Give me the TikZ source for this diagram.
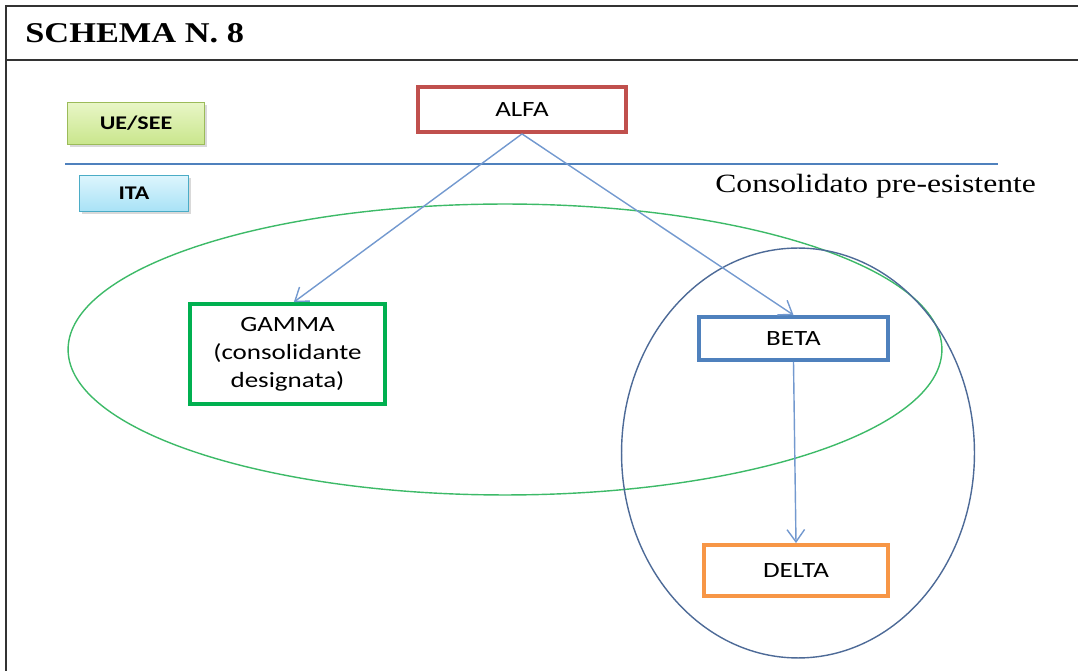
\documentclass[tikz,border=0pt]{standalone}
\usepackage{fontspec}
\setmainfont[FakeStretch=1.2]{Liberation Serif}
\newfontfamily\boxfont[FakeStretch=1.24]{Carlito}
\usetikzlibrary{arrows.meta}
\usetikzlibrary{positioning}
\usetikzlibrary{shadows}

\definecolor{alfared}{HTML}{C0504D}
\definecolor{gammagreen}{HTML}{00B050}
\definecolor{betablue}{HTML}{4F81BD}
\definecolor{deltaorange}{HTML}{F79646}
\definecolor{linkblue}{HTML}{7399CF}
\definecolor{ovalgreen}{HTML}{3DBA68}
\definecolor{ovalblue}{HTML}{4D6A97}
\definecolor{uetop}{HTML}{E8F6C6}
\definecolor{uebottom}{HTML}{C9E68C}
\definecolor{ueline}{HTML}{9BBB59}
\definecolor{itatop}{HTML}{DDF5FD}
\definecolor{itabottom}{HTML}{A8E2F6}
\definecolor{italine}{HTML}{4BACC6}

\begin{document}
\begin{tikzpicture}[
  x = 0.02cm, y = -0.02cm,
  > = {Straight Barb[length=7pt,width=10pt]},
  firm/.style = {draw=#1,line width=2.2pt,fill=white,align=center,
                 font=\boxfont\fontsize{12.4}{16}\selectfont,inner sep=0pt},
  tag/.style = {draw=#1,line width=0.8pt,font=\boxfont\bfseries\fontsize{11}{13}\selectfont,
                inner sep=0pt,drop shadow={shadow xshift=1.2pt,shadow yshift=-1.2pt,opacity=.3}},
  link/.style = {->,draw=linkblue,line width=0.8pt}
  ]
  \useasboundingbox (0,0) rectangle (1078,671);

  % frame and title
  \draw[line width=1.2pt,black!80] (6,680) -- (6,6) -- (1090,6);
  \draw[line width=1.2pt,black!80] (6,60) -- (1090,60);
  \node[anchor=west,inner sep=0pt,font=\bfseries\fontsize{16.3}{19}\selectfont] (title) at (25,33) {SCHEMA N. 8};

  % levels
  \node[tag=ueline,top color=uetop,bottom color=uebottom,
        minimum width=2.74cm,minimum height=0.84cm] (ue) at (136,123.5) {UE/SEE};
  \node[tag=italine,top color=itatop,bottom color=itabottom,
        minimum width=2.18cm,minimum height=0.72cm] (ita) at (134,193.5) {ITA};
  \draw[betablue,line width=0.7pt] (65,164) -- (998,164);

  \node[anchor=west,inner sep=0pt,font=\fontsize{15}{18}\selectfont] (cons) at (715,186) {Consolidato pre-esistente};

  % perimeters
  \draw[ovalgreen,line width=0.8pt] (505,349.5) ellipse [x radius=8.74cm,y radius=2.91cm];
  \draw[ovalblue,line width=0.8pt] (798,453) ellipse [x radius=3.53cm,y radius=4.1cm];

  % companies
  \node[firm=alfared,minimum width=4.16cm,minimum height=0.9cm] (alfa) at (522,109.5) {ALFA};
  \node[firm=gammagreen,minimum width=3.9cm,minimum height=2cm] (gamma) at (287.5,354)
       {GAMMA\\(consolidante\\designata)};
  \node[firm=betablue,minimum width=3.78cm,minimum height=0.86cm] (beta) at (793.5,338.5) {BETA};
  \node[firm=deltaorange,minimum width=3.68cm,minimum height=1.02cm] (delta) at (796,570.5) {DELTA};

  \draw[link] (alfa.south) -- (gamma.83);
  \draw[link] (alfa.south) -- (beta.north);
  \draw[link] (beta.south) -- (delta.north);
\end{tikzpicture}
\end{document}
